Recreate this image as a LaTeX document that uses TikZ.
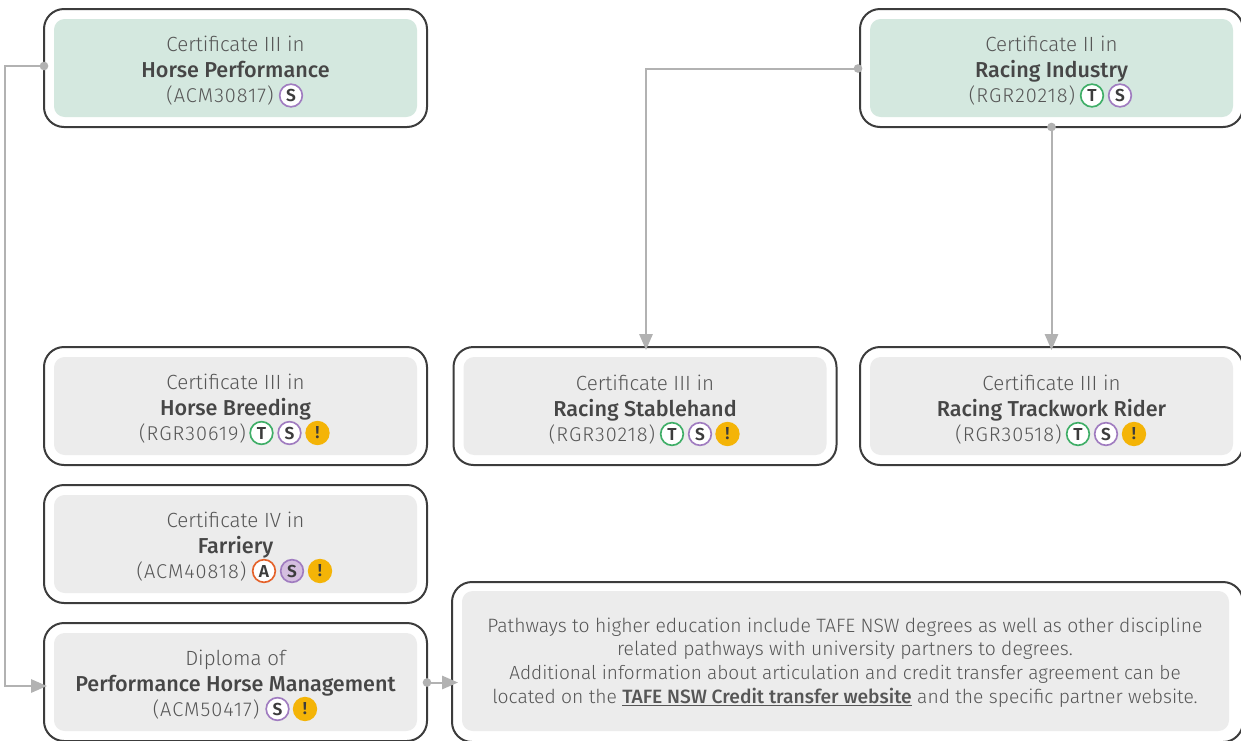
\documentclass[tikz,border=0pt]{standalone}
\usepackage{fontspec}
\setmainfont{Fira Sans Light}
\newfontfamily\medfont{Fira Sans Medium}
\newfontfamily\bdgfont{Fira Sans SemiBold}
\newfontfamily\codefont[LetterSpace=5]{Fira Sans Light}
\usetikzlibrary{arrows.meta,positioning}
\definecolor{ink}{HTML}{464646}
\definecolor{edge}{HTML}{3C3C3C}
\definecolor{soft}{HTML}{565656}
\definecolor{greenbox}{HTML}{D4E8DF}
\definecolor{greybox}{HTML}{ECECEC}
\definecolor{wire}{HTML}{B2B2B2}
\definecolor{bT}{HTML}{3FAE67}
\definecolor{bS}{HTML}{A07CC0}
\definecolor{bSfill}{HTML}{D5BFE0}
\definecolor{bA}{HTML}{E5622A}
\definecolor{bW}{HTML}{F4B407}
\tikzset{
  x=0.75pt,y=-0.75pt,
  outerbox/.style={draw=edge,line width=1.5pt,fill=white,rounded corners=15pt,minimum width=287.25pt,minimum height=88.5pt,inner sep=0pt},
  innerbox/.style={rounded corners=8pt,minimum width=272.25pt,minimum height=73.5pt,inner sep=0pt},
  lineA/.style={text=soft,anchor=base,font=\fontsize{15.4}{17}\selectfont,inner sep=0pt},
  lineB/.style={text=ink,anchor=base,font=\medfont\fontsize{16.2}{18}\selectfont,inner sep=0pt},
  lineC/.style={text=soft,anchor=base,font=\codefont\fontsize{15}{17}\selectfont,inner sep=0pt},
  badge/.style={circle,minimum size=17pt,inner sep=0pt,line width=1.25pt,fill=white,text=edge,font=\bdgfont\fontsize{13}{14}\selectfont},
  badgeT/.style={badge,draw=bT},
  badgeS/.style={badge,draw=bS},
  badgeSf/.style={badge,draw=bS,fill=bSfill},
  badgeA/.style={badge,draw=bA},
  badgeW/.style={badge,draw=bW,fill=bW},
  conn/.style={draw=wire,line width=1.5pt,-{Triangle[length=12pt,width=10pt,fill=wire]}},
  dotstart/.style={circle,fill=wire,inner sep=0pt,minimum size=6.5pt},
  pathtext/.style={text=soft,font=\fontsize{14.5}{17.8}\selectfont,align=center,inner sep=0pt},
}
\newcommand{\course}[9]{%
  % #1 name, #2 cx, #3 cy, #4 inner fill, #5 line1, #6 line2, #7 code, #8 code centre x, #9 text shift
  \node[outerbox] (#1) at (#2,#3) {};
  \node[innerbox,fill=#4] (#1i) at (#2,#3) {};
  \node[lineA] (#1a) at (#2,#3-17+#9) {#5};
  \node[lineB] (#1b) at (#2,#3+9.5+#9) {#6};
  \node[lineC] (#1c) at (#8,#3+34+#9) {#7};
}
\begin{document}
\begin{tikzpicture}
\useasboundingbox (0,0) rectangle (1241,740);
\clip (0,0) rectangle (1241,740);

\course{hp}{235.5}{68}{greenbox}{Certificate III in}{Horse Performance}{(ACM30817)}{220}{0}
\node[badgeS] (hpS) at (291,95.5) {S};

\course{ri}{1051.5}{68}{greenbox}{Certificate II in}{Racing Industry}{(RGR20218)}{1022}{0}
\node[badgeT] (riT) at (1092,95.5) {T};
\node[badgeS] (riS) at (1120,95.5) {S};

\course{hb}{235.5}{406}{greybox}{Certificate III in}{Horse Breeding}{(RGR30619)}{192.5}{0}
\node[badgeT] (hbT) at (261.5,433) {T};
\node[badgeS] (hbS) at (289.5,433) {S};
\node[badgeW] (hbW) at (317.5,433) {!};

\course{st}{645}{406}{greybox}{Certificate III in}{Racing Stablehand}{(RGR30218)}{602}{1}
\node[badgeT] (stT) at (672,434) {T};
\node[badgeS] (stS) at (700,434) {S};
\node[badgeW] (stW) at (727.5,434) {!};

\course{tr}{1051.5}{406}{greybox}{Certificate III in}{Racing Trackwork Rider}{(RGR30518)}{1008.5}{1}
\node[badgeT] (trT) at (1078,434) {T};
\node[badgeS] (trS) at (1106,434) {S};
\node[badgeW] (trW) at (1134,434) {!};

\course{fa}{235.5}{544}{greybox}{Certificate IV in}{Farriery}{(ACM40818)}{191.5}{0}
\node[badgeA] (faA) at (264,571) {A};
\node[badgeSf] (faS) at (292,571) {S};
\node[badgeW] (faW) at (320,571) {!};

\course{di}{235.5}{682}{greybox}{Diploma of}{Performance Horse Management}{(ACM50417)}{206}{0}
\node[badgeS] (diS) at (277.5,709) {S};
\node[badgeW] (diW) at (305,709) {!};

% pathways box
\node[outerbox,minimum width=593.25pt,minimum height=120pt] (pw) at (847.5,662) {};
\node[innerbox,fill=greybox,minimum width=575.25pt,minimum height=105pt] (pwi) at (845.5,661) {};
\node[pathtext] (pwt) at (845,662.5) {Pathways to higher education include TAFE NSW degrees as well as other discipline\\
related pathways with university partners to degrees.\\
{\fontsize{14.27}{17.8}\selectfont Additional information about articulation and credit transfer agreement can be}\\
{\fontsize{14.45}{17.8}\selectfont located on the \underline{\medfont TAFE NSW Credit transfer website} and the specific partner website.}};

% connectors
\node[dotstart] (d1) at (44,66) {};
\coordinate (c1a) at (5,66);
\coordinate (c1b) at (5,686);
\coordinate (c1c) at (47,686);
\draw[conn] (d1.center) -- (c1a) -- (c1b) -- (c1c);

\node[dotstart] (d2) at (858,68.5) {};
\coordinate (c2a) at (646,68.5);
\coordinate (c2b) at (646,350);
\draw[conn] (d2.center) -- (c2a) -- (c2b);

\node[dotstart] (d3) at (1051.5,127) {};
\coordinate (c3) at (1051.5,350);
\draw[conn] (d3.center) -- (c3);

\node[dotstart] (d4) at (427,682.5) {};
\coordinate (c4) at (458,682.5);
\draw[conn] (d4.center) -- (c4);
\end{tikzpicture}
\end{document}
